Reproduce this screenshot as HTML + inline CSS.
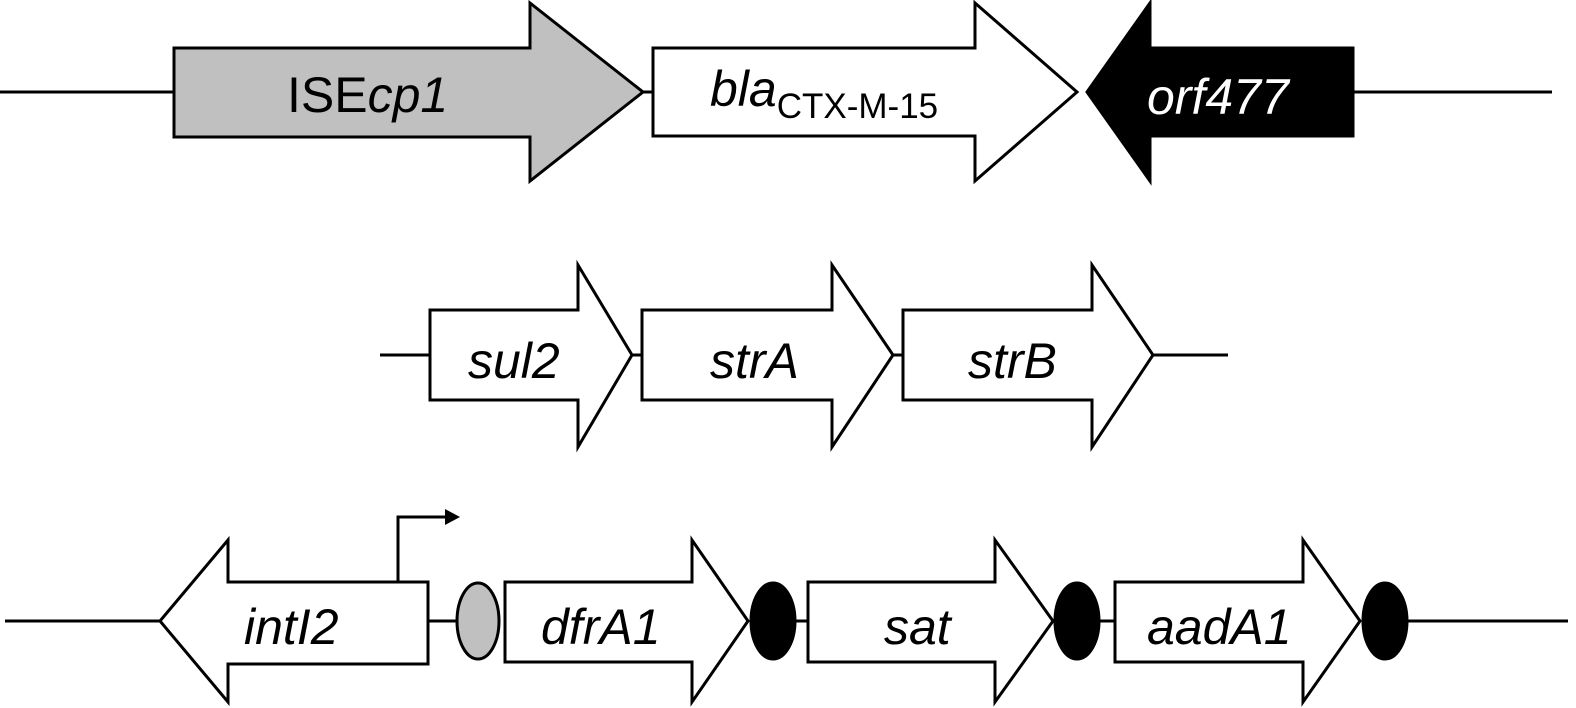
<!DOCTYPE html>
<html><head><style>body{margin:0;background:#fff}svg{display:block}text{font-family:"Liberation Sans",sans-serif;font-size:50px;font-style:italic}</style></head><body>
<svg width="1576" height="708" viewBox="0 0 1576 708" xmlns="http://www.w3.org/2000/svg">
<g stroke="#000" stroke-width="3">
<line x1="0" y1="92" x2="174" y2="92"/>
<line x1="643" y1="92" x2="653" y2="92"/>
<line x1="1353" y1="92" x2="1552" y2="92"/>
<polygon points="174,48 530,48 530,3 643,92 530,181 530,137 174,137" fill="#c0c0c0"/>
<polygon points="653,48 975,48 975,3 1077,92 975,181 975,136 653,136" fill="#fff"/>
<polygon points="1353,48 1150,48 1150,3 1087,92 1150,181 1150,136 1353,136" fill="#000"/>
<line x1="380" y1="355" x2="430" y2="355"/>
<line x1="632" y1="355" x2="642" y2="355"/>
<line x1="893" y1="355" x2="903" y2="355"/>
<line x1="1153" y1="355" x2="1228" y2="355"/>
<polygon points="430,310 578,310 578,265 632,355 578,447 578,400 430,400" fill="#fff"/>
<polygon points="642,310 832,310 832,265 893,355 832,447 832,400 642,400" fill="#fff"/>
<polygon points="903,310 1092,310 1092,265 1153,355 1092,447 1092,400 903,400" fill="#fff"/>
<line x1="5" y1="621" x2="160" y2="621"/>
<line x1="428" y1="621" x2="458" y2="621"/>
<line x1="795" y1="621" x2="808" y2="621"/>
<line x1="1099" y1="621" x2="1115" y2="621"/>
<line x1="1407" y1="621" x2="1568" y2="621"/>
<polygon points="428,582 228,582 228,540 160,621 228,702 228,664 428,664" fill="#fff"/>
<polyline points="398,582 398,517 445,517" fill="none"/>
<polygon points="445,509 460,517 445,525" fill="#000" stroke="none"/>
<ellipse cx="478" cy="621" rx="21" ry="38" fill="#c0c0c0"/>
<polygon points="505,582 692,582 692,540 748,621 692,702 692,662 505,662" fill="#fff"/>
<ellipse cx="773" cy="621" rx="22" ry="38" fill="#000"/>
<polygon points="808,582 995,582 995,540 1053,621 995,702 995,662 808,662" fill="#fff"/>
<ellipse cx="1077" cy="621" rx="22" ry="38" fill="#000"/>
<polygon points="1115,582 1303,582 1303,540 1360,621 1303,702 1303,662 1115,662" fill="#fff"/>
<ellipse cx="1385" cy="621" rx="22" ry="38" fill="#000"/>
</g>
<text x="287" y="112" style="font-style:normal">ISE<tspan font-style="italic">cp1</tspan></text>
<text x="710" y="106">bla<tspan font-style="normal" font-size="35" dy="12">CTX-M-15</tspan></text>
<text x="1147" y="114" fill="#fff">orf477</text>
<text x="468" y="378">sul2</text>
<text x="710" y="378">strA</text>
<text x="968" y="378">strB</text>
<text x="244" y="644">intI2</text>
<text x="541" y="644">dfrA1</text>
<text x="884" y="644">sat</text>
<text x="1147" y="644">aadA1</text>
</svg>
</body></html>
